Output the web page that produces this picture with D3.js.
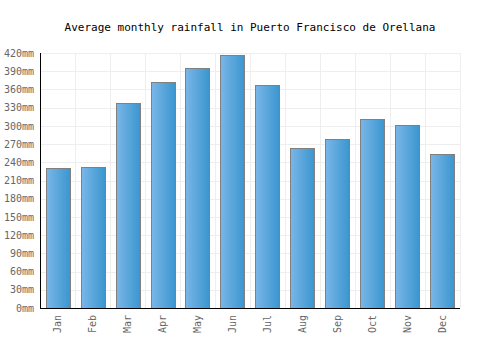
<!DOCTYPE html>
<html>
<head>
<meta charset="utf-8">
<script src="https://cdn.jsdelivr.net/npm/d3@7"></script>
<style>
  body { margin: 0; background: #fff; }
  text { font-family: "DejaVu Sans Mono", monospace; }
</style>
</head>
<body>
<svg></svg>
<script>
// rainfall per month, mm
const months = ["Jan", "Feb", "Mar", "Apr", "May", "Jun", "Jul", "Aug", "Sep", "Oct", "Nov", "Dec"];
const rainfall = [230, 233, 337, 373, 396, 417, 367, 264, 279, 312, 301, 253];
const yTicks = [0, 30, 60, 90, 120, 150, 180, 210, 240, 270, 300, 330, 360, 390, 420];

const svgWidth = 500;
const svgHeight = 350;

const svg = d3.select("svg")
    .attr("width", svgWidth)
    .attr("height", svgHeight);

const margin = {top: 53, right: 40, bottom: 42, left: 40};
const width = svgWidth - margin.left - margin.right;
const height = svgHeight - margin.top - margin.bottom;

const defs = svg.append("defs");
const grad = defs.append("linearGradient")
    .attr("id", "barGrad")
    .attr("x1", "0%").attr("x2", "100%")
    .attr("y1", "0%").attr("y2", "0%");
grad.append("stop").attr("offset", "0%").attr("stop-color", "#7ab6e8");
grad.append("stop").attr("offset", "100%").attr("stop-color", "#3a96cf");

svg.append("text")
    .attr("x", svgWidth / 2)
    .attr("y", 31)
    .attr("text-anchor", "middle")
    .attr("font-size", "11px")
    .attr("fill", "#000")
    .text("Average monthly rainfall in Puerto Francisco de Orellana");

const g = svg.append("g").attr("transform", "translate(" + margin.left + "," + margin.top + ")");

const x = d3.scaleBand()
    .domain(months)
    .range([0, width])
    .paddingInner(0.31)
    .paddingOuter(0.16);

const y = d3.scaleLinear()
    .domain([0, 420])
    .range([height, 0]);

// horizontal grid
g.selectAll(".hgrid")
    .data(yTicks)
    .enter().append("line")
    .attr("class", "hgrid")
    .attr("x1", 0).attr("x2", width)
    .attr("y1", d => Math.round(y(d)) + 0.5)
    .attr("y2", d => Math.round(y(d)) + 0.5)
    .attr("stroke", "#eeeeee");

// vertical grid at band edges
const step = x.step();
const edges = d3.range(months.length + 1).map(i => i * width / months.length);
g.selectAll(".vgrid")
    .data(edges)
    .enter().append("line")
    .attr("class", "vgrid")
    .attr("x1", d => Math.round(d) + 0.5)
    .attr("x2", d => Math.round(d) + 0.5)
    .attr("y1", 0).attr("y2", height)
    .attr("stroke", "#eeeeee");

g.selectAll(".bar")
    .data(rainfall)
    .enter().append("rect")
    .attr("class", "bar")
    .attr("x", (d, i) => Math.round(x(months[i])) + 0.5)
    .attr("y", d => Math.round(y(d)) + 0.5)
    .attr("width", Math.round(x.bandwidth()))
    .attr("height", d => height - Math.round(y(d)))
    .attr("fill", "url(#barGrad)")
    .attr("stroke", "#808080")
    .attr("stroke-width", 1);

// y axis
const yAxis = g.append("g")
    .call(d3.axisLeft(y).tickValues(yTicks).tickSize(0).tickPadding(6).tickFormat(d => d + "mm"));
yAxis.select(".domain").remove();
yAxis.selectAll("text")
    .attr("font-size", "10px")
    .attr("fill", "#666");

// x axis
const xAxis = g.append("g")
    .attr("transform", "translate(0," + height + ")")
    .call(d3.axisBottom(x).tickSize(0));
xAxis.select(".domain").remove();
xAxis.selectAll("text")
    .attr("font-size", "10px")
    .attr("fill", "#666")
    .attr("text-anchor", "end")
    .attr("transform", "rotate(-90)")
    .attr("x", -7)
    .attr("y", 0)
    .attr("dy", "0.35em");

// axis lines
g.append("line")
    .attr("x1", 0.5).attr("x2", 0.5)
    .attr("y1", 0).attr("y2", height + 0.5)
    .attr("stroke", "#000");
g.append("line")
    .attr("x1", 0).attr("x2", width)
    .attr("y1", height + 0.5).attr("y2", height + 0.5)
    .attr("stroke", "#000");
</script>
</body>
</html>
